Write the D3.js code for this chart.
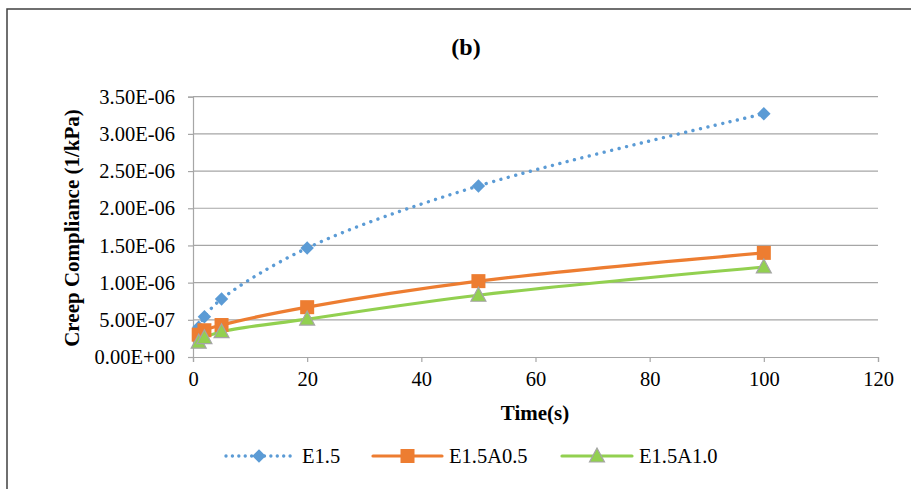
<!DOCTYPE html>
<html>
<head>
<meta charset="utf-8">
<script src="https://cdn.jsdelivr.net/npm/d3@7"></script>
<style>
  html, body { margin: 0; padding: 0; background: #fff; }
  svg { display: block; }
  text { font-family: "Liberation Serif", "Times New Roman", serif; fill: #000; }
</style>
</head>
<body>
<svg id="chart" width="911" height="489"></svg>
<script>
// ---- data ----
const times = [1, 2, 5, 20, 50, 100];
const seriesNames = ["E1.5", "E1.5A0.5", "E1.5A1.0"];
const e15 = [0.40e-6, 0.54e-6, 0.78e-6, 1.465e-6, 2.30e-6, 3.27e-6];
const e15a05 = [0.30e-6, 0.36e-6, 0.43e-6, 0.67e-6, 1.02e-6, 1.40e-6];
const e15a10 = [0.20e-6, 0.26e-6, 0.34e-6, 0.51e-6, 0.83e-6, 1.21e-6];
const xTicks = [0, 20, 40, 60, 80, 100, 120];
const yTicks = [0, 0.5e-6, 1.0e-6, 1.5e-6, 2.0e-6, 2.5e-6, 3.0e-6, 3.5e-6];
const yTickLabels = ["0.00E+00", "5.00E-07", "1.00E-06", "1.50E-06", "2.00E-06", "2.50E-06", "3.00E-06", "3.50E-06"];
const titleText = "(b)";
const xTitle = "Time(s)";
const yTitle = "Creep Compliance (1/kPa)";

const svg = d3.select("#chart");

// frame (only top and left visible)
svg.append("rect").attr("x", 7).attr("y", 9).attr("width", 1200).attr("height", 1000)
  .attr("fill", "none").attr("stroke", "#404040").attr("stroke-width", 1.5);

const x = d3.scaleLinear().domain([0, 120]).range([193, 878]);
const y = d3.scaleLinear().domain([0, 3.5e-6]).range([357, 96.7]);

// gridlines
svg.append("g").selectAll("line").data(yTicks.slice(1)).join("line")
  .attr("x1", x(0)).attr("x2", x(120))
  .attr("y1", d => y(d)).attr("y2", d => y(d))
  .attr("stroke", "#a6a6a6").attr("stroke-width", 1.2);

// y axis
const yAxis = d3.axisLeft(y).tickValues(yTicks).tickSize(5).tickPadding(13)
  .tickFormat((d, i) => yTickLabels[i]);
const gy = svg.append("g").attr("transform", `translate(${x(0)},0)`).call(yAxis);
gy.attr("font-family", null);
gy.select(".domain").attr("stroke", "#a6a6a6").attr("stroke-width", 1.2);
gy.selectAll(".tick line").attr("stroke", "#a6a6a6").attr("stroke-width", 1.2);
gy.selectAll(".tick text").attr("font-size", 20.5).attr("fill", "#000");

// x axis
const xAxis = d3.axisBottom(x).tickValues(xTicks).tickSize(5).tickPadding(9);
const gx = svg.append("g").attr("transform", `translate(0,${y(0)})`).call(xAxis);
gx.attr("font-family", null);
gx.select(".domain").attr("stroke", "#a6a6a6").attr("stroke-width", 1.2);
gx.selectAll(".tick line").attr("stroke", "#a6a6a6").attr("stroke-width", 1.2);
gx.selectAll(".tick text").attr("font-size", 20.5).attr("fill", "#000");

// titles
svg.append("text").attr("x", 466).attr("y", 55).attr("text-anchor", "middle")
  .attr("font-size", 24).attr("font-weight", "bold").text(titleText);
svg.append("text").attr("x", 535).attr("y", 420).attr("text-anchor", "middle")
  .attr("font-size", 21).attr("font-weight", "bold").text(xTitle);
svg.append("text").attr("transform", `translate(79,228) rotate(-90)`).attr("text-anchor", "middle")
  .attr("font-size", 21).attr("font-weight", "bold").text(yTitle);

const series = [
  { name: seriesNames[0], values: e15, color: "#5b9bd5", dash: "0.01,7.6", width: 3.4, marker: "diamond" },
  { name: seriesNames[1], values: e15a05, color: "#ed7d31", dash: null, width: 3.2, marker: "square" },
  { name: seriesNames[2], values: e15a10, color: "#92d050", dash: null, width: 3.2, marker: "triangle" }
];

const line = d3.line().x(d => x(d[0])).y(d => y(d[1])).curve(d3.curveCatmullRom.alpha(0.5));

function drawMarker(g, type, cx, cy, color) {
  if (type === "diamond") {
    g.append("path").attr("d", d3.symbol(d3.symbolDiamond2, 115)())
      .attr("transform", `translate(${cx},${cy})`).attr("fill", color);
  } else if (type === "square") {
    g.append("rect").attr("x", cx - 7).attr("y", cy - 7).attr("width", 14).attr("height", 14).attr("fill", color);
  } else {
    g.append("path").attr("d", `M${cx},${cy - 8}L${cx + 7.5},${cy + 6}L${cx - 7.5},${cy + 6}Z`)
      .attr("fill", color).attr("stroke", "#a5a5a5").attr("stroke-width", 1.2);
  }
}

series.forEach(s => {
  const pts = times.map((t, i) => [t, s.values[i]]);
  const p = svg.append("path").datum(pts).attr("d", line)
    .attr("fill", "none").attr("stroke", s.color).attr("stroke-width", s.width)
    .attr("stroke-linecap", "round").attr("stroke-linejoin", "round");
  if (s.dash) p.attr("stroke-dasharray", s.dash);
});
series.forEach(s => {
  const g = svg.append("g");
  times.forEach((t, i) => drawMarker(g, s.marker, x(t), y(s.values[i]), s.color));
});

// legend
const legendItems = [
  { x1: 226, x2: 292, tx: 302 },
  { x1: 373, x2: 442, tx: 449 },
  { x1: 562, x2: 632, tx: 639 }
];
const ly = 456;
series.forEach((s, i) => {
  const it = legendItems[i];
  const g = svg.append("g");
  const l = g.append("line").attr("x1", it.x1).attr("x2", it.x2).attr("y1", ly).attr("y2", ly)
    .attr("stroke", s.color).attr("stroke-width", s.width).attr("stroke-linecap", "round");
  if (s.dash) l.attr("stroke-dasharray", "0.01,6.4");
  drawMarker(g, s.marker, (it.x1 + it.x2) / 2, ly, s.color);
  g.append("text").attr("x", it.tx).attr("y", ly + 7).attr("font-size", 20.5).text(s.name);
});
</script>
</body>
</html>
